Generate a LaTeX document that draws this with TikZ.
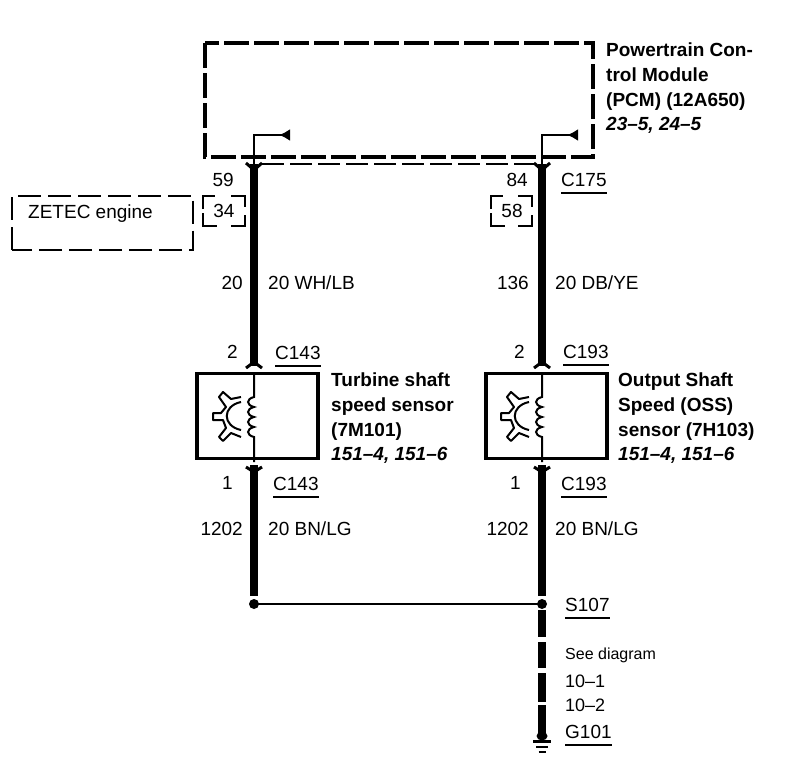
\documentclass[tikz,border=0pt]{standalone}
\usepackage{fontspec}
\setmainfont{Liberation Sans}
\usetikzlibrary{arrows.meta}
\tikzset{
 x=1pt,y=-1pt,
 lbl/.style={inner sep=0pt,anchor=west,font=\fontsize{19}{22}\selectfont},
 lblb/.style={lbl,font=\fontsize{19}{24.6}\bfseries\selectfont,align=left,anchor=north west},
 rgt/.style={lbl,anchor=east},
 conn/.style={lbl,anchor=west},
 under/.style={line width=1.6pt},
 wire/.style={line width=8.5pt},
 modbox/.style={draw,line width=4pt,dash pattern=on 25pt off 5pt},
 optbox/.style={draw,line width=2pt,dash pattern=on 23pt off 7pt},
 pinbox/.style={line width=2.5pt},
 sensor/.style={draw,line width=3.8pt,fill=white,minimum width=121pt,minimum height=85pt,inner sep=0pt},
 dot/.style={circle,fill,inner sep=0pt,minimum size=10pt},
 tip/.style={-{Latex[reversed,length=11pt,width=12pt]},line width=2.2pt},
 flare/.style={line width=3pt}
}
\newcommand{\coilgear}[2]{%
 \begin{scope}[shift={(#1,#2)}]
  \draw[line width=2pt] (-13,-15) .. controls (-32,-11) and (-32,9) .. (-13,13);
  \draw[line width=2pt,line join=round] (-13,-20) -- (-23,-18) -- (-31,-25) -- (-35,-20) -- (-28,-10) -- (-33,-4) -- (-41,-4) -- (-41,3) -- (-31,3) -- (-28,11) -- (-35,20) -- (-31,24) -- (-23,16) -- (-13,20);
  \draw[line width=2pt] (0,-45) -- (0,-20) .. controls (-8,-18) and (-8,-12) .. (0,-10) .. controls (-8,-8) and (-8,-2) .. (0,0) .. controls (-8,2) and (-8,8) .. (0,10) .. controls (-8,12) and (-8,18) .. (0,20) -- (0,45);
 \end{scope}}
\newcommand{\pinframe}[4]{%
 \draw[pinbox] (#1,{#2+13}) -- (#1,#2) -- ({#1+12},#2);
 \draw[pinbox] ({#3-14},#2) -- (#3,#2) -- (#3,{#2+11});
 \draw[pinbox] (#1,{#4-13}) -- (#1,#4) -- ({#1+14},#4);
 \draw[pinbox] ({#3-14},#4) -- (#3,#4) -- (#3,{#4-11});}
\begin{document}
\begin{tikzpicture}
\useasboundingbox (0,0) rectangle (792,768);
\fill[white] (0,0) rectangle (792,768);
% PCM
\draw[modbox] (205,43) rectangle (593,157);
\coordinate (da) at (262,163.5);
\coordinate (db) at (536,163.5);
\draw[line width=2pt,dash pattern=on 22pt off 6pt] (da) -- (db);
\node[lblb] (pcm) at (606,43) {Powertrain Con-\\trol Module\\(PCM) (12A650)\\\textit{23--5, 24--5}};
% ZETEC
\draw[optbox] (12,249.5) rectangle (193,195.5);
\node[lbl] (zetec) at (28,213.5) {ZETEC engine};
\node[lbl,anchor=center] (p34) at (224,211) {34};
\node[lbl,anchor=center] (p58) at (512,211) {58};
\pinframe{203}{196}{245}{226}
\pinframe{491}{196}{532}{226}
% Sensors
\node[sensor] (s1) at (257.5,416) {};
\node[sensor] (s2) at (546.5,416) {};
% Coordinates
\coordinate (a1) at (254,164);
\coordinate (a2) at (254,366);
\coordinate (a3) at (254,465);
\coordinate (a4) at (254,604);
\coordinate (a5) at (254,596);
\coordinate (b1) at (542,164);
\coordinate (b2) at (542,366);
\coordinate (b3) at (542,465);
\coordinate (b4) at (542,604);
\coordinate (b5) at (542,596);
\coordinate (g) at (542,734);
% wires
\draw[wire] (a1) -- (a2);
\draw[wire] (b1) -- (b2);
\draw[wire] (a3) -- (a5);
\draw[wire] (b3) -- (b5);
\draw[wire,line width=8pt,dash pattern=on 0pt off 6pt on 27pt off 5pt on 26pt off 5pt on 29pt off 3pt on 30pt] (b4) -- (g);
\draw[line width=2.2pt] (a4) -- (b4);
\node[dot] (sa) at (a4) {};
\node[dot] (sb) at (b4) {};
% PCM stubs
\draw[tip] (a1) -- (254,135) -- (290,135);
\draw[tip] (b1) -- (542,135) -- (578,135);
% flares
\foreach \c in {a1,b1}{\draw[flare] ([xshift=-8pt,yshift=1pt]\c) -- ([yshift=-6pt]\c) -- ([xshift=8pt,yshift=1pt]\c);}
\foreach \c in {a2,b2}{\draw[flare] ([xshift=-8pt,yshift=-2pt]\c) -- ([yshift=4pt]\c) -- ([xshift=8pt,yshift=-2pt]\c);}
\foreach \c in {a3,b3}{\draw[flare] ([xshift=-8pt,yshift=-2pt]\c) -- ([yshift=-7pt]\c) -- ([xshift=8pt,yshift=-2pt]\c);}
% sensor internals
\coilgear{254}{417}
\coilgear{542}{417}
% ground
\fill (542,736) ellipse (5.5pt and 4.5pt);
\draw[line width=3pt] (533,741) -- (551,741);
\draw[line width=2.5pt] (536,747) -- (548,747);
\draw[line width=2pt] (538.5,752) -- (545.5,752);
% Left labels
\node[rgt] (n59) at (234,180) {59};
\node[rgt] (n20) at (243,283) {20};
\node[rgt] (n2a) at (238,352) {2};
\node[rgt] (n1a) at (233,483) {1};
\node[rgt] (n1202a) at (243,529) {1202};
\node[conn] (w1) at (268,283) {20 WH/LB};
\node[conn] (w2) at (268,529) {20 BN/LG};
\node[rgt] (n84) at (528,180) {84};
\node[rgt] (n136) at (529,283) {136};
\node[rgt] (n2b) at (525,352) {2};
\node[rgt] (n1b) at (521,483) {1};
\node[rgt] (n1202b) at (529,529) {1202};
\node[conn] (w3) at (555,283) {20 DB/YE};
\node[conn] (w4) at (555,529) {20 BN/LG};
% Connectors
\node[conn] (c175) at (561,180) {C175};
\node[conn] (c143a) at (275,353) {C143};
\node[conn] (c143b) at (273,484) {C143};
\node[conn] (c193a) at (563,352) {C193};
\node[conn] (c193b) at (561,484) {C193};
\node[conn] (s107) at (565,605) {S107};
\node[conn] (g101) at (565,732) {G101};
\foreach \n in {c175,c143a,c143b,c193a,c193b,s107,g101}{\draw[under] ([yshift=-6pt]\n.south west) -- ([yshift=-6pt]\n.south east);}
\node[lbl,font=\fontsize{16}{18}\selectfont] (see) at (565,655) {See diagram};
\node[lbl,font=\fontsize{18}{20}\selectfont] (d1) at (565,681) {10--1};
\node[lbl,font=\fontsize{18}{20}\selectfont] (d2) at (565,705) {10--2};
% sensor labels
\node[lblb] (t1) at (331,373) {Turbine shaft\\speed sensor\\(7M101)\\\textit{151--4, 151--6}};
\node[lblb] (t2) at (618,373) {Output Shaft\\Speed (OSS)\\sensor (7H103)\\\textit{151--4, 151--6}};
\end{tikzpicture}
\end{document}
